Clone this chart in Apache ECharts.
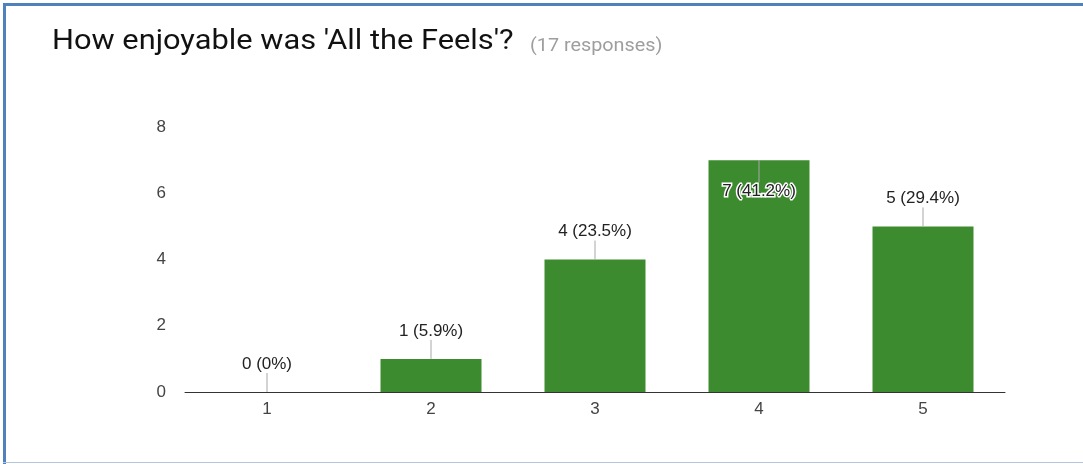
<!DOCTYPE html>
<html>
<head>
<meta charset="utf-8">
<script src="https://cdn.jsdelivr.net/npm/echarts@6/dist/echarts.min.js"></script>
<style>
  html, body { margin: 0; padding: 0; background: #fff; }
  #chart { width: 1083px; height: 464px; }
</style>
</head>
<body>
<div id="chart"></div>
<script>
// Ratings and how many responses each received
const categories = ['1', '2', '3', '4', '5'];
const counts = [0, 1, 4, 7, 5];
const percentLabels = ['0%', '5.9%', '23.5%', '41.2%', '29.4%'];
const yTicks = [0, 2, 4, 6, 8];
const titleText = "How enjoyable was 'All the Feels'?";
const subtitleText = '(17 responses)';

const chart = echarts.init(document.getElementById('chart'), null, { renderer: 'canvas' });

const GRID = { left: 185, right: 78, top: 127, bottom: 72 };
const BAR_COLOR = '#3d8b2f';
const LABEL_FONT = '17px "Liberation Sans", Arial, sans-serif';

// Value labels with a short leader line; placed inside the bar when there is no room above it
function renderValueLabel(params, api) {
  const idx = api.value(0);
  const val = api.value(1);
  const pt = api.coord([idx, val]);
  const plotTop = params.coordSys.y;
  const text = val + ' (' + percentLabels[params.dataIndex] + ')';
  const above = pt[1] - 28 - 8 >= plotTop;
  const children = [];
  if (above) {
    children.push({
      type: 'line',
      shape: { x1: pt[0], y1: pt[1], x2: pt[0], y2: pt[1] - 19 },
      style: { stroke: '#a8a8a8', lineWidth: 1 }
    });
    children.push({
      type: 'text',
      style: {
        text: text, x: pt[0], y: pt[1] - 28,
        align: 'center', verticalAlign: 'middle',
        fill: '#222', font: LABEL_FONT
      }
    });
  } else {
    children.push({
      type: 'line',
      shape: { x1: pt[0], y1: pt[1], x2: pt[0], y2: pt[1] + 22 },
      style: { stroke: '#a8a8a8', lineWidth: 1 }
    });
    children.push({
      type: 'text',
      style: {
        text: text, x: pt[0], y: pt[1] + 31,
        align: 'center', verticalAlign: 'middle',
        fill: '#222', stroke: '#fff', lineWidth: 3,
        font: LABEL_FONT
      }
    });
  }
  return { type: 'group', children: children };
}

chart.setOption({
  animation: false,
  backgroundColor: '#fff',
  grid: GRID,
  graphic: [
    { type: 'rect', shape: { x: 3, y: 3, width: 1080, height: 3 }, style: { fill: '#4f81bd' }, silent: true },
    { type: 'rect', shape: { x: 3, y: 3, width: 3, height: 461 }, style: { fill: '#4f81bd' }, silent: true },
    { type: 'rect', shape: { x: 3, y: 462, width: 1080, height: 1 }, style: { fill: '#b4c4dc' }, silent: true },
    {
      type: 'text', x: 52, y: 42, scaleX: 1.1,
      style: { text: titleText, fill: '#111', font: '28px Roboto', verticalAlign: 'middle' }
    },
    {
      type: 'text', x: 530, y: 46, scaleX: 1.1,
      style: { text: subtitleText, fill: '#9e9e9e', font: '18px Roboto', verticalAlign: 'middle' }
    }
  ],
  xAxis: {
    type: 'category',
    data: categories,
    axisLine: { show: true, lineStyle: { color: '#333', width: 1 } },
    axisTick: { show: false },
    axisLabel: { color: '#444', fontSize: 17, fontFamily: '"Liberation Sans", Arial, sans-serif', margin: 9 }
  },
  yAxis: {
    type: 'value',
    min: yTicks[0],
    max: yTicks[yTicks.length - 1],
    interval: 2,
    axisLine: { show: false },
    axisTick: { show: false },
    splitLine: { show: false },
    axisLabel: { color: '#444', fontSize: 17, fontFamily: '"Liberation Sans", Arial, sans-serif', margin: 19 }
  },
  series: [
    {
      type: 'bar',
      data: counts,
      barWidth: 101,
      itemStyle: { color: BAR_COLOR },
      z: 2
    },
    {
      type: 'custom',
      data: counts.map((v, i) => [i, v]),
      renderItem: renderValueLabel,
      encode: { x: 0, y: 1 },
      z: 5
    }
  ]
});
</script>
</body>
</html>
